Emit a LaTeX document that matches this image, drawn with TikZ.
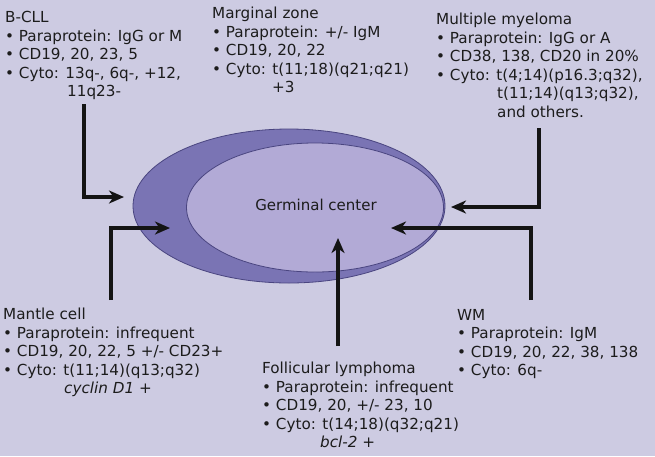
\documentclass[tikz,border=0pt]{standalone}
\usepackage{fontspec}
\setmainfont{DejaVu Sans}
\usetikzlibrary{arrows.meta}
\definecolor{bg}{HTML}{CDCBE2}
\definecolor{outerc}{HTML}{7A74B4}
\definecolor{innerc}{HTML}{B2AAD6}
\definecolor{rimc}{HTML}{4A4580}
\definecolor{txt}{HTML}{1C1C1C}
\begin{document}
\begin{tikzpicture}[x=1pt,y=-1pt,
  block/.style={anchor=north west, align=left, inner sep=0pt, text=txt,
    font=\fontsize{15.2}{18.5}\selectfont},
  conn/.style={line width=3.6pt, draw=black!92, -{Stealth[length=15pt,width=13pt,inset=4.5pt]}}]
\fill[bg] (0,0) rectangle (655,456);
\useasboundingbox (0,0) rectangle (655,456);
% ellipses
\draw[fill=outerc, draw=rimc, line width=0.8pt] (289,206) ellipse [x radius=156, y radius=77];
\draw[fill=innerc, draw=rimc, line width=0.8pt] (315,207.5) ellipse [x radius=128.5, y radius=64.5];
\node[text=txt, font=\fontsize{15}{17}\selectfont] (gc) at (316,205) {Germinal center};
% text blocks
\node[block] (bcll) at (5,11.5) {B-CLL\\
• Paraprotein: IgG or M\\
• CD19, 20, 23, 5\\
• Cyto: 13q-, 6q-, +12,\\
\hspace*{62pt}11q23-};
\node[block] (mz) at (212,7) {Marginal zone\\
• Paraprotein: +/- IgM\\
• CD19, 20, 22\\
• Cyto: t(11;18)(q21;q21)\\
\hspace*{60pt}+3};
\node[block] (mm) at (436,13) {Multiple myeloma\\
• Paraprotein: IgG or A\\
• CD38, 138, CD20 in 20\%\\
• Cyto: t(4;14)(p16.3;q32),\\
\hspace*{61pt}t(11;14)(q13;q32),\\
\hspace*{61pt}and others.};
\node[block] (mc) at (3,308) {Mantle cell\\
• Paraprotein: infrequent\\
• CD19, 20, 22, 5 +/- CD23+\\
• Cyto: t(11;14)(q13;q32)\\
\hspace*{61pt}\textit{cyclin D1 +}};
\node[block] (fl) at (262,362) {Follicular lymphoma\\
• Paraprotein: infrequent\\
• CD19, 20, +/- 23, 10\\
• Cyto: t(14;18)(q32;q21)\\
\hspace*{58pt}\textit{bcl-2 +}};
\node[block] (wm) at (457,309) {WM\\
• Paraprotein: IgM\\
• CD19, 20, 22, 38, 138\\
• Cyto: 6q-};
% connector anchors
\coordinate (a1) at (84,104);
\coordinate (t1) at (124,197);
\coordinate (a2) at (111,300);
\coordinate (t2) at (170,228);
\coordinate (a3) at (338,346);
\coordinate (t3) at (338,238);
\coordinate (a4) at (531,300);
\coordinate (t4) at (391,228);
\coordinate (a5) at (539,128);
\coordinate (t5) at (451,207);
\draw[conn] (a1) |- (t1);
\draw[conn] (a2) |- (t2);
\draw[conn] (a3) -- (t3);
\draw[conn] (a4) |- (t4);
\draw[conn] (a5) |- (t5);
\end{tikzpicture}
\end{document}
